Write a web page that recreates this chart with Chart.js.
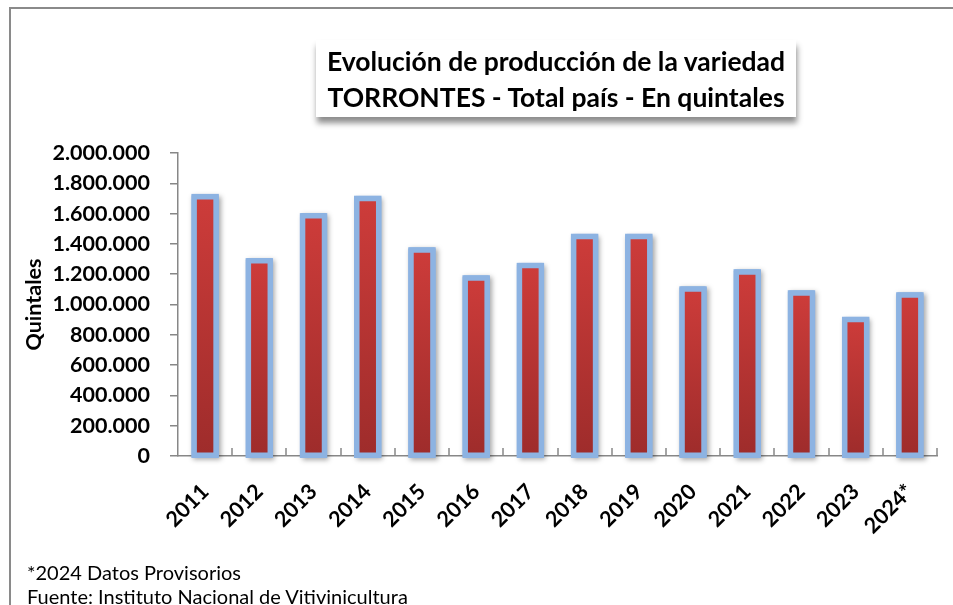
<!DOCTYPE html>
<html lang="es">
<head>
<meta charset="utf-8">
<title>Torrontés - producción total país</title>
<script src="https://cdn.jsdelivr.net/npm/chart.js@4.4.1/dist/chart.umd.min.js"></script>
<style>
  html, body { margin: 0; padding: 0; background: #fff; }
  body { width: 953px; height: 605px; position: relative; overflow: hidden; font-family: Lato, "Open Sans", sans-serif; }
  #marco { position: absolute; left: 9px; top: 7px; right: -20px; bottom: -20px; border-top: 2px solid #8a8a8a; border-left: 2px solid #8a8a8a; }
  #caja { position: absolute; left: 0; top: 0; width: 953px; height: 605px; }
  #titulo {
    position: absolute; left: 316px; top: 40px; width: 480px; height: 77px;
    background: #fff; box-shadow: 1px 6px 6px rgba(0,0,0,0.45);
    text-align: center; font-weight: bold; font-size: 26.5px; line-height: 36px; color: #000;
    padding-top: 3px; box-sizing: border-box; white-space: nowrap;
  }
  #nota { position: absolute; left: 27px; top: 560px; font-size: 20px; line-height: 24px; color: #000; }
</style>
</head>
<body>
<div id="marco"></div>
<div id="caja"><canvas id="grafico"></canvas></div>
<div id="titulo">Evolución de producción de la variedad<br>TORRONTES - Total país - En quintales</div>
<div id="nota">*2024 Datos Provisorios<br>Fuente: Instituto Nacional de Vitivinicultura</div>

<script>
// === DATOS ===
const ANIOS = ["2011", "2012", "2013", "2014", "2015", "2016", "2017", "2018", "2019", "2020", "2021", "2022", "2023", "2024*"];
const QUINTALES = [1712000, 1288000, 1585000, 1700000, 1360000, 1175000, 1257000, 1449000, 1449000, 1102000, 1215000, 1076000, 901000, 1063000];
const ESCALA_MIN = 0;
const ESCALA_MAX = 2000000;
const ESCALA_PASO = 200000;

const GRIS_EJE = '#878787';
const AZUL_BORDE = '#8DB3E2';
const BORDE = 5.5;
const FUENTE_EJES = { family: 'Lato', weight: 'bold', size: 21.5 };

// separador de miles con punto
function miles(v) {
    return String(v).replace(/\B(?=(\d{3})+(?!\d))/g, '.');
}

// degradado rojo por barra (claro arriba, oscuro abajo)
function degradado(ctx) {
    const chart = ctx.chart;
    if (!chart.chartArea || ctx.type !== 'data') return '#C13836';
    const y = chart.scales.y;
    const arriba = y.getPixelForValue(ctx.raw);
    const abajo = y.getPixelForValue(0);
    const g = chart.ctx.createLinearGradient(0, arriba, 0, abajo);
    g.addColorStop(0, '#CD3C3A');
    g.addColorStop(1, '#9E2C2B');
    return g;
}

// sombra suave detrás de cada barra
const sombraBarras = {
    id: 'sombraBarras',
    beforeDatasetsDraw(chart) {
        const ctx = chart.ctx;
        const meta = chart.getDatasetMeta(0);
        ctx.save();
        ctx.shadowColor = 'rgba(0,0,0,0.35)';
        ctx.shadowBlur = 5;
        ctx.shadowOffsetX = 2;
        ctx.shadowOffsetY = 2;
        ctx.fillStyle = AZUL_BORDE;
        meta.data.forEach(bar => {
            const p = bar.getProps(['x', 'y', 'base', 'width'], true);
            const m = BORDE / 2;
            ctx.fillRect(p.x - p.width / 2 - m, p.y - m, p.width + 2 * m, p.base - p.y + 2 * m);
        });
        ctx.restore();
    }
};

// marcas del eje X hacia arriba, entre categorías
const marcasX = {
    id: 'marcasX',
    afterDatasetsDraw(chart) {
        const x = chart.scales.x;
        const ctx = chart.ctx;
        ctx.save();
        ctx.strokeStyle = GRIS_EJE;
        ctx.lineWidth = 1.5;
        for (let i = 1; i <= ANIOS.length; i++) {
            const px = Math.round(x.getPixelForValue(i - 0.5));
            ctx.beginPath();
            ctx.moveTo(px, x.top);
            ctx.lineTo(px, x.top - 8);
            ctx.stroke();
        }
        ctx.restore();
    }
};

document.addEventListener("DOMContentLoaded", () => {
    const ctx = document.getElementById("grafico").getContext("2d");
    new Chart(ctx, {
        type: "bar",
        data: {
            labels: ANIOS,
            datasets: [{
                data: QUINTALES,
                backgroundColor: degradado,
                borderColor: AZUL_BORDE,
                borderWidth: BORDE,
                borderSkipped: false,
                inflateAmount: BORDE / 2,
                borderRadius: 2,
                barPercentage: 0.405,
                categoryPercentage: 1,
                clip: false,
            }],
        },
        options: {
            responsive: true,
            maintainAspectRatio: false,
            animation: false,
            layout: { padding: { top: 153, right: 16, left: 0, bottom: 0 } },
            plugins: {
                legend: { display: false },
                tooltip: { enabled: false },
            },
            scales: {
                x: {
                    grid: { display: false },
                    border: { display: true, color: GRIS_EJE, width: 1.5 },
                    ticks: {
                        autoSkip: false,
                        minRotation: 45,
                        maxRotation: 45,
                        padding: 15,
                        color: '#000',
                        font: FUENTE_EJES,
                    },
                    afterFit: (s) => { s.height = 149; },
                },
                y: {
                    min: ESCALA_MIN,
                    max: ESCALA_MAX,
                    grid: { drawOnChartArea: false, drawTicks: true, tickLength: 8, color: GRIS_EJE, lineWidth: 1.5 },
                    border: { display: true, color: GRIS_EJE, width: 1.5 },
                    ticks: {
                        stepSize: ESCALA_PASO,
                        padding: 20,
                        color: '#000',
                        font: FUENTE_EJES,
                        callback: (v) => miles(v),
                    },
                    title: {
                        display: true,
                        text: 'Quintales',
                        color: '#000',
                        font: FUENTE_EJES,
                        padding: { top: 21, bottom: 0 },
                    },
                    afterFit: (s) => { s.width = 178; },
                },
            },
        },
        plugins: [sombraBarras, marcasX],
    });
});
</script>
</body>
</html>
